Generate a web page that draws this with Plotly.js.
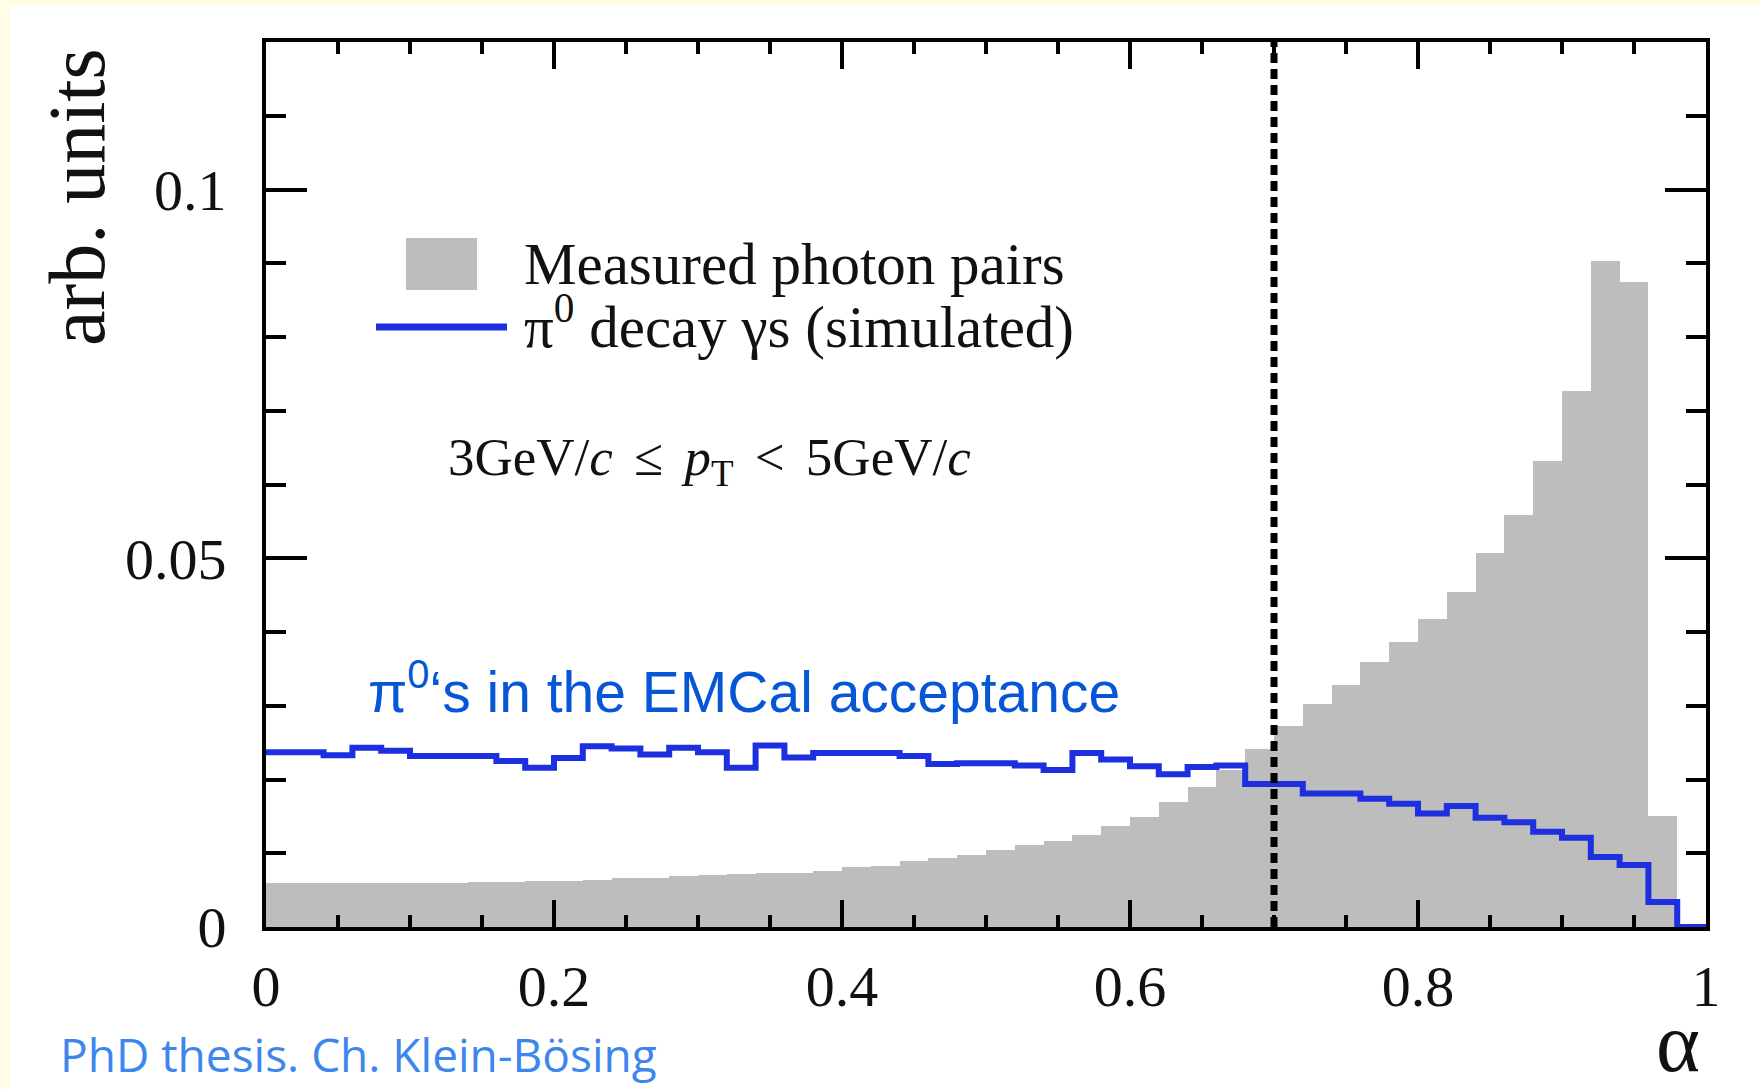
<!DOCTYPE html>
<html>
<head>
<meta charset="utf-8">
<script src="https://cdn.plot.ly/plotly-3.0.1.min.js"></script>
<style>
  html, body { margin: 0; padding: 0; background: #fffde8; }
  #chart { width: 1760px; height: 1089px; }
</style>
</head>
<body>
<div id="chart"></div>
<script>
// ---- data (bin width 0.02 in alpha) ----
const alphaBinLow = [0.00, 0.02, 0.04, 0.06, 0.08, 0.10, 0.12, 0.14, 0.16, 0.18,
                     0.20, 0.22, 0.24, 0.26, 0.28, 0.30, 0.32, 0.34, 0.36, 0.38,
                     0.40, 0.42, 0.44, 0.46, 0.48, 0.50, 0.52, 0.54, 0.56, 0.58,
                     0.60, 0.62, 0.64, 0.66, 0.68, 0.70, 0.72, 0.74, 0.76, 0.78,
                     0.80, 0.82, 0.84, 0.86, 0.88, 0.90, 0.92, 0.94, 0.96, 0.98];
const alphaBinWidth = 0.02;
const alphaMax = 1.0;

// Measured photon pairs (grey filled histogram)
const measuredPairs = [0.0059, 0.0059, 0.0059, 0.0060, 0.0060, 0.0060, 0.0060, 0.0061, 0.0061, 0.0063,
                       0.0063, 0.0064, 0.0066, 0.0067, 0.0069, 0.0070, 0.0072, 0.0073, 0.0073, 0.0076,
                       0.0081, 0.0083, 0.0089, 0.0093, 0.0098, 0.0104, 0.0111, 0.0117, 0.0125, 0.0137,
                       0.0149, 0.0170, 0.0190, 0.0213, 0.0242, 0.0272, 0.0303, 0.0328, 0.0360, 0.0386,
                       0.0418, 0.0454, 0.0507, 0.0558, 0.0632, 0.0727, 0.0903, 0.0875, 0.0151, 0.0000];

// pi0 decay photons, simulated (blue step line)
const pi0Simulated = [0.0237, 0.0237, 0.0233, 0.0243, 0.0239, 0.0232, 0.0232, 0.0232, 0.0225, 0.0216,
                      0.0229, 0.0245, 0.0242, 0.0234, 0.0243, 0.0237, 0.0216, 0.0246, 0.0230, 0.0236,
                      0.0236, 0.0236, 0.0232, 0.0221, 0.0222, 0.0222, 0.0219, 0.0213, 0.0236, 0.0227,
                      0.0218, 0.0207, 0.0217, 0.0219, 0.0194, 0.0194, 0.0181, 0.0181, 0.0174, 0.0167,
                      0.0154, 0.0164, 0.0148, 0.0142, 0.0129, 0.0121, 0.0095, 0.0084, 0.0034, 0.0000];

const cutAlpha = 0.7;

const xTickVals = [0, 0.2, 0.4, 0.6, 0.8, 1];
const xTickText = ["0", "0.2", "0.4", "0.6", "0.8", "1"];
const yTickVals = [0, 0.05, 0.1];
const yTickText = ["0", "0.05", "0.1"];

const legendLabels = ["Measured photon pairs", "π<sup>0</sup> decay γs (simulated)"];
const ptLabel = "3GeV/<i>c</i>\u2009\u2009≤\u2009\u2009<i>p</i><sub>T</sub>\u2009\u2009&lt;\u2009\u20095GeV/<i>c</i>";
const acceptanceLabel = "π<sup>0</sup>‘s in the EMCal acceptance";
const sourceLabel = "PhD thesis. Ch. Klein-Bösing";
const xTitle = "α";
const yTitle = "arb. units";

// ---- geometry helpers (pixel -> paper) ----
const W = 1760, H = 1089;
const M = {l: 266, r: 54, t: 42, b: 162};
const PW = W - M.l - M.r, PH = H - M.t - M.b;
const px = x => (x - M.l) / PW;
const py = y => (H - M.b - y) / PH;

const SERIF = "Liberation Serif, 'Times New Roman', serif";
const GREY = "#bdbdbd";
const BLUE = "#1e2fe0";

// traces
const barCenters = alphaBinLow.map(v => v + alphaBinWidth / 2);
const stepX = alphaBinLow.concat([alphaMax]);
const stepY = pi0Simulated.concat([pi0Simulated[pi0Simulated.length - 1]]);

const traces = [
  {
    type: "bar",
    x: barCenters,
    y: measuredPairs,
    width: alphaBinWidth,
    marker: {color: GREY, line: {width: 0}},
    name: "Measured photon pairs",
    hoverinfo: "x+y"
  },
  {
    type: "scatter",
    mode: "lines",
    x: stepX,
    y: stepY,
    line: {shape: "hv", color: BLUE, width: 6},
    name: "π0 decay γs (simulated)",
    hoverinfo: "x+y"
  }
];

const axisCommon = {
  showline: true, linecolor: "#000", linewidth: 4,
  mirror: "ticks", ticks: "inside", tickcolor: "#000", tickwidth: 4,
  showgrid: false, zeroline: false,
  tickfont: {family: SERIF, size: 58, color: "#111"},
  tickmode: "array", layer: "above traces"
};

const layout = {
  width: W, height: H,
  margin: M,
  paper_bgcolor: "#fffde8",
  plot_bgcolor: "rgba(0,0,0,0)",
  showlegend: false,
  bargap: 0,
  xaxis: Object.assign({}, axisCommon, {
    range: [0, 1],
    tickvals: xTickVals, ticktext: xTickText,
    ticklen: 27, ticklabelstandoff: 5,
    minor: {tickmode: "linear", tick0: 0, dtick: 0.05, ticks: "inside", ticklen: 12, tickwidth: 4, tickcolor: "#000", showgrid: false}
  }),
  yaxis: Object.assign({}, axisCommon, {
    range: [0, 0.12],
    tickvals: yTickVals, ticktext: yTickText,
    ticklen: 41, ticklabelstandoff: 24,
    minor: {tickmode: "linear", tick0: 0, dtick: 0.01, ticks: "inside", ticklen: 20, tickwidth: 4, tickcolor: "#000", showgrid: false}
  }),
  shapes: [
    // white panel on cream page
    {type: "rect", xref: "paper", yref: "paper", layer: "below",
     x0: px(10), x1: px(1760), y0: py(1089), y1: py(6),
     fillcolor: "#ffffff", line: {width: 0}},
    // cut line
    {type: "line", xref: "x", yref: "paper", x0: cutAlpha, x1: cutAlpha, y0: 0, y1: 1,
     layer: "above", line: {color: "#000", width: 7, dash: "10px,6px"}},
    // legend swatches
    {type: "rect", xref: "paper", yref: "paper", layer: "above",
     x0: px(406), x1: px(477), y0: py(290), y1: py(238),
     fillcolor: GREY, line: {width: 0}},
    {type: "line", xref: "paper", yref: "paper", layer: "above",
     x0: px(376), x1: px(507), y0: py(327), y1: py(327),
     line: {color: BLUE, width: 7}}
  ],
  annotations: [
    {xref: "paper", yref: "paper", x: px(522), y: py(264), xanchor: "left", yanchor: "middle",
     text: legendLabels[0], showarrow: false, font: {family: SERIF, size: 59, color: "#111"}},
    {xref: "paper", yref: "paper", x: px(522), y: py(322), xanchor: "left", yanchor: "middle",
     text: legendLabels[1], showarrow: false, font: {family: SERIF, size: 59, color: "#111"}},
    {xref: "paper", yref: "paper", x: px(446), y: py(461), xanchor: "left", yanchor: "middle",
     text: ptLabel, showarrow: false, font: {family: SERIF, size: 53, color: "#111"}},
    {xref: "paper", yref: "paper", x: px(366), y: py(688), xanchor: "left", yanchor: "middle",
     text: acceptanceLabel, showarrow: false, font: {family: "Liberation Sans, Arial, sans-serif", size: 57, color: "#0656d6"}},
    {xref: "paper", yref: "paper", x: px(58), y: py(1054), xanchor: "left", yanchor: "middle",
     text: sourceLabel, showarrow: false, font: {family: "Open Sans, sans-serif", size: 46, color: "#3d86ee"}},
    {xref: "paper", yref: "paper", x: px(1678), y: py(1042), xanchor: "center", yanchor: "middle",
     text: xTitle, showarrow: false, font: {family: SERIF, size: 84, color: "#111"}},
    {xref: "paper", yref: "paper", x: px(77), y: py(197), xanchor: "center", yanchor: "middle",
     text: yTitle, textangle: -90, showarrow: false, font: {family: SERIF, size: 80, color: "#111"}}
  ]
};

Plotly.newPlot("chart", traces, layout, {displayModeBar: false, staticPlot: true});
</script>
</body>
</html>
